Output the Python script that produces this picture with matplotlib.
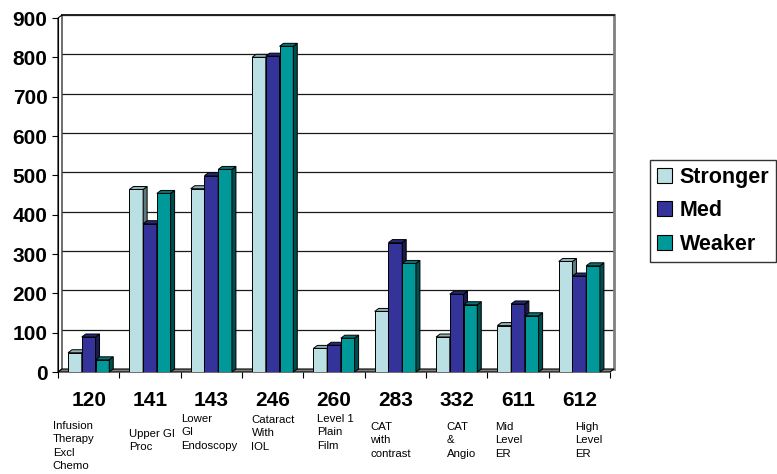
import matplotlib
matplotlib.use("Agg")
import matplotlib.pyplot as plt
from matplotlib.patches import Polygon, Patch
import numpy as np

# ---- data -------------------------------------------------------------
codes = ["120", "141", "143", "246", "260", "283", "332", "611", "612"]
descriptions = [
    "Infusion\nTherapy\nExcl\nChemo",
    "Upper GI\nProc",
    "Lower\nGI\nEndoscopy",
    "Cataract\nWith\nIOL",
    "Level 1\nPlain\nFilm",
    "CAT\nwith\ncontrast",
    "CAT\n&\nAngio",
    "Mid\nLevel\nER",
    "High\nLevel\nER",
]
series_names = ["Stronger", "Med", "Weaker"]
stronger = [49, 464, 466, 800, 60, 154, 89, 118, 281]
med = [89, 377, 499, 803, 68, 329, 198, 173, 244]
weaker = [31, 454, 515, 828, 86, 276, 171, 143, 270]
y_ticks = list(range(0, 1000, 100))

# ---- styling ----------------------------------------------------------
plt.rcParams["font.family"] = ["Liberation Sans", "DejaVu Sans"]
front_colors = ["#BBE0E3", "#333399", "#009999"]
top_colors = ["#93B0B3", "#282878", "#007575"]
side_colors = ["#5E7A7C", "#1A1A4D", "#004D4D"]

W, H = 777, 474
fig = plt.figure(figsize=(W / 100, H / 100), dpi=100)
fig.patch.set_facecolor("white")

# front plane of the 3-D box (pixel layout)
left_px, right_px, top_px, base_px = 58, 610, 18, 372
ax = fig.add_axes([left_px / W, 1 - base_px / H,
                   (right_px - left_px) / W, (base_px - top_px) / H])
n = len(codes)
ax.set_xlim(0, n)
ax.set_ylim(0, 900)
ax.set_facecolor("none")
for s in ax.spines.values():
    s.set_visible(False)

# depth offset of the box, expressed in data units
DEPTH_X_PX, DEPTH_Y_PX = 4.0, 3.0
dx = DEPTH_X_PX * n / (right_px - left_px)
dy = DEPTH_Y_PX * 900 / (base_px - top_px)
ymax = 900

# back wall
ax.add_patch(Polygon([(dx, dy), (n + dx, dy), (n + dx, ymax + dy), (dx, ymax + dy)],
                     closed=True, facecolor="white", edgecolor="none",
                     zorder=0.5, clip_on=False))
# gridlines on the back wall
for v in y_ticks[1:]:
    ax.plot([dx, n + dx], [v + dy, v + dy], color="#1a1a1a", lw=0.9,
            zorder=0.8, clip_on=False, solid_capstyle="butt")
# wall borders
ax.plot([n + dx, n + dx], [dy, ymax + dy], color="#808080", lw=2.0,
        zorder=0.9, clip_on=False)
ax.plot([dx, n + dx], [ymax + dy, ymax + dy], color="#202020", lw=1.4,
        zorder=0.9, clip_on=False)
# left side wall
ax.add_patch(Polygon([(0, 0), (dx, dy), (dx, ymax + dy), (0, ymax)],
                     closed=True, facecolor="white", edgecolor="black",
                     lw=0.8, zorder=1, clip_on=False))
# floor
ax.add_patch(Polygon([(0, 0), (n, 0), (n + dx, dy), (dx, dy)],
                     closed=True, facecolor="#808080", edgecolor="black",
                     lw=0.8, zorder=1.2, clip_on=False))

# ---- bars -------------------------------------------------------------
bw = 0.224
centers = np.arange(n) + 0.5
for j, vals in enumerate([stronger, med, weaker]):
    xs = centers + (j - 1) * bw
    z = 3 + j
    ax.bar(xs, vals, width=bw, color=front_colors[j], edgecolor="black",
           linewidth=0.7, zorder=z, label=series_names[j])
    for x, v in zip(xs, vals):
        xl, xr = x - bw / 2, x + bw / 2
        ax.add_patch(Polygon([(xr, 0), (xr + dx, dy), (xr + dx, v + dy), (xr, v)],
                             closed=True, facecolor=side_colors[j],
                             edgecolor="black", lw=0.7, zorder=z, clip_on=False))
        ax.add_patch(Polygon([(xl, v), (xr, v), (xr + dx, v + dy), (xl + dx, v + dy)],
                             closed=True, facecolor=top_colors[j],
                             edgecolor="black", lw=0.7, zorder=z, clip_on=False))

# ---- axes ticks & labels ------------------------------------------------
ax.set_yticks(y_ticks)
ax.set_yticklabels([str(v) for v in y_ticks], fontsize=15, fontweight="bold")
ax.tick_params(axis="y", direction="out", length=4.3, width=0.8, pad=3.2,
               color="black")
ax.plot([0, 0], [0, ymax], color="black", lw=0.8, zorder=1.3, clip_on=False)

ax.set_xticks(np.arange(n + 1))
ax.set_xticklabels([])
ax.tick_params(axis="x", which="major", direction="out", length=4.5, width=0.8)
ax.set_xticks(centers, minor=True)
ax.set_xticklabels(codes, minor=True, fontsize=15, fontweight="bold")
ax.tick_params(axis="x", which="minor", length=0, pad=13.5)

# category descriptions under the codes (left x, top y in pixels)
desc_pos = [(52.7, 421), (129, 429), (181.5, 414), (251.5, 415), (317, 414),
            (370.5, 422), (446.5, 422), (495, 422), (575, 422)]
for (px, py), txt in zip(desc_pos, descriptions):
    fig.text(px / W, 1 - py / H, txt, ha="left", va="top", fontsize=8.2,
             linespacing=1.42)

# ---- legend -----------------------------------------------------------
handles = [Patch(facecolor=front_colors[j], edgecolor="black", linewidth=0.8,
                 label=series_names[j]) for j in range(3)]
leg = fig.legend(handles=handles, loc="upper left",
                 bbox_to_anchor=(650 / W, 1 - 160 / H),
                 bbox_transform=fig.transFigure,
                 prop={"size": 15.5, "weight": "bold"},
                 frameon=True, fancybox=False, shadow=False,
                 handlelength=0.7, handleheight=0.7, handletextpad=0.35,
                 labelspacing=0.58, borderpad=0.32, borderaxespad=0)
leg.get_frame().set_edgecolor("black")
leg.get_frame().set_linewidth(1.0)

fig.savefig("out.png", dpi=100, facecolor="white")
